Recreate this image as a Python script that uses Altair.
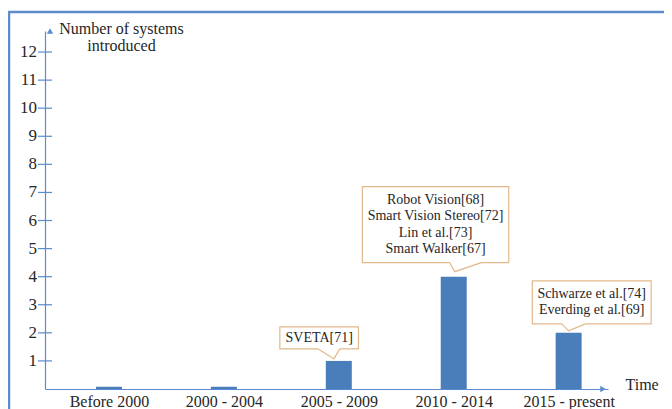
import altair as alt
import pandas as pd

# ---- data ----
categories = ["Before 2000", "2000 - 2004", "2005 - 2009", "2010 - 2014", "2015 - present"]
counts = [0.08, 0.08, 1, 4, 2]
y_tick_values = list(range(1, 13))
callout_index = [2, 3, 4]
callout_lines = [
    ["SVETA[71]"],
    ["Robot Vision[68]", "Smart Vision Stereo[72]", "Lin et al.[73]", "Smart Walker[67]"],
    ["Schwarze et al.[74]", "Everding et al.[69]"],
]

# ---- layout (pixels) ----
W, H = 563, 358
X0 = -0.513
KX = 117.0
X1 = X0 + W / KX
KY = 28.08
Y1 = H / KY
FONT = "Liberation Serif"
TXT = "#262626"
BLUE_AX = "#5b8bd0"
BAR = "#4a7ebb"
TAN = "#e2b88a"
LH = 16.5

# callout offsets relative to bar centre / bar top, in px (left, right, top-above, bottom-above)
box_off = [(-60, 20, 34, 12), (-93, 56, 90, 14), (-37, 84, 52, 9)]
# pointer: base left, base right, tip dx, tip above
ptr_off = [(-21, 1, -5, 2), (-4, 28, 1, 5), (-7, 17, 0, 2)]

bars = pd.DataFrame({"idx": list(range(len(categories))), "cat": categories, "n": counts})
ticks = pd.DataFrame({"v": y_tick_values, "lab": [str(v) for v in y_tick_values]})

boxes, areas, texts = [], [], []
for k, (i, lines) in enumerate(zip(callout_index, callout_lines)):
    v = counts[i]
    l, r, t, b = box_off[k]
    boxes.append({"id": k, "x": i + l / KX, "x2": i + r / KX, "y": v + t / KY, "y2": v + b / KY})
    top_above = (t + b) / 2 + len(lines) * LH / 2 - 1
    texts.append({"id": k, "x": i + (l + r) / 2 / KX, "y": v + top_above / KY, "txt": lines})
    bl, br, tx, ta = ptr_off[k]
    bot = v + b / KY
    for px, py in [(bl, bot), (tx, v + ta / KY), (br, bot)]:
        areas.append({"id": k, "x": i + px / KX, "y": bot + 1.2 / KY, "y2": py, "yl": py})
boxes = pd.DataFrame(boxes)
texts = pd.DataFrame(texts)
areas = pd.DataFrame(areas)

xs = alt.Scale(domain=[X0, X1], nice=False, zero=False)
ys = alt.Scale(domain=[0, Y1], nice=False, zero=False)

label_expr = "[" + ",".join("'" + c + "'" for c in categories) + "][datum.value]"


def X(f):
    return alt.X(f, scale=xs)


def Y(f):
    return alt.Y(f, scale=ys)


frame = alt.Chart(pd.DataFrame({"a": [0]})).mark_rect(
    fillOpacity=0, stroke="#5f8ccc", strokeWidth=2.5
).encode(x=alt.value(-36), x2=alt.value(700), y=alt.value(-19), y2=alt.value(450))

bar = alt.Chart(bars).mark_bar(size=26, color=BAR).encode(
    x=alt.X("idx:Q", scale=xs, axis=alt.Axis(
        values=list(range(len(categories))), labelExpr=label_expr, ticks=False,
        grid=False, domainColor=BLUE_AX, domainWidth=1.2, labelFont=FONT, labelFontSize=16,
        labelColor=TXT, labelPadding=4, title="Time", titleFont=FONT, titleFontSize=16,
        titleFontWeight="normal", titleColor=TXT, titleX=580, titleY=-5, titleAlign="left",
        titleBaseline="middle", labelFlush=False, labelOverlap=False)),
    y=alt.Y("n:Q", scale=ys, axis=alt.Axis(
        values=y_tick_values, ticks=False, labels=False, grid=False, domainColor=BLUE_AX,
        domainWidth=1.2,
        title=["Number of systems", "introduced"], titleFont=FONT, titleFontSize=16,
        titleFontWeight="normal", titleColor=TXT, titleAngle=0, titleX=76, titleY=-11,
        titleAlign="center", titleBaseline="top", titleLineHeight=17)),
)

yticks = alt.Chart(ticks).mark_rule(color=BLUE_AX, strokeWidth=1.2).encode(
    y=Y("v:Q"), x=alt.value(-7), x2=alt.value(7)
)
ylabels = alt.Chart(ticks).mark_text(
    font=FONT, fontSize=17, color=TXT, align="right", baseline="middle"
).encode(y=Y("v:Q"), x=alt.value(-8), text="lab:N")

arrows = alt.Chart(pd.DataFrame({"x": [X0, X1], "y": [Y1, 0], "s": ["triangle-up", "triangle-right"]})).mark_point(
    filled=True, size=40, color=BLUE_AX, opacity=1
).encode(
    x=X("x:Q"), y=Y("y:Q"),
    shape=alt.Shape("s:N", scale=None, legend=None)
)

box = alt.Chart(boxes).mark_rect(fill="white", stroke=TAN, strokeWidth=1.2).encode(
    x=X("x:Q"), x2="x2:Q", y=Y("y:Q"), y2="y2:Q"
)

ptr_fill = alt.Chart(areas).mark_area(color="white", opacity=1).encode(
    x=X("x:Q"), y=Y("y:Q"), y2="y2:Q", detail="id:N"
)
ptr_line = alt.Chart(areas).mark_line(color=TAN, strokeWidth=1.2).encode(
    x=X("x:Q"), y=Y("yl:Q"), detail="id:N"
)

txt = alt.Chart(texts).mark_text(
    font=FONT, fontSize=14, color=TXT, align="center", baseline="top", lineHeight=LH
).encode(x=X("x:Q"), y=Y("y:Q"), text="txt")

chart = alt.layer(bar, frame, yticks, ylabels, arrows, box, ptr_fill, ptr_line, txt).properties(
    width=W, height=H,
    background="white",
    autosize=alt.AutoSizeParams(type="none"),
    padding={"left": 37, "top": 23, "right": 656 - 37 - W, "bottom": 401 - 23 - H},
).configure_view(strokeWidth=0, stroke="transparent").configure_axis(
    labelOverlap=False, labelFlush=False, grid=False
)

chart.save("out.html", embed_options={"renderer": "svg", "actions": False})
